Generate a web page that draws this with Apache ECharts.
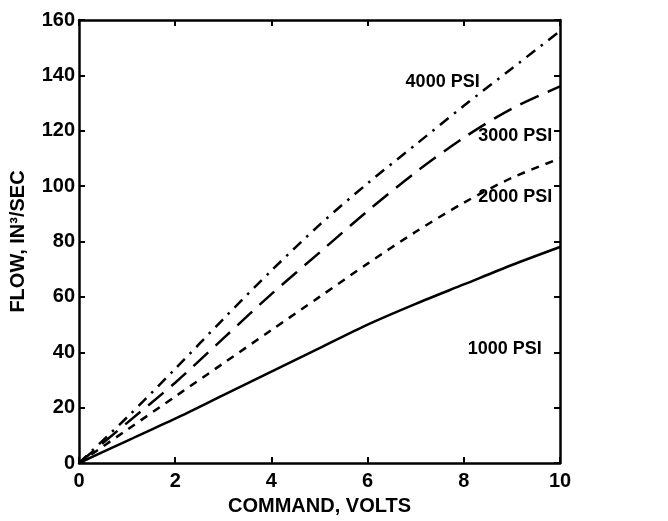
<!DOCTYPE html>
<html>
<head>
<meta charset="utf-8">
<script src="https://cdn.jsdelivr.net/npm/echarts@6/dist/echarts.min.js"></script>
<style>
  html, body { margin: 0; padding: 0; background: #fff; }
  #chart { width: 668px; height: 521px; }
</style>
</head>
<body>
<div id="chart"></div>
<script>
// command voltage (x) and flow at each supply pressure
const volts = [0, 1, 2, 3, 4, 5, 6, 7, 8, 9, 10];
const psi1000 = [0, 8, 16, 24.5, 33, 41.5, 50, 57.5, 64.5, 71.5, 78];
const psi2000 = [0, 12, 24, 36, 48, 60, 72, 83.5, 94, 103, 110];
const psi3000 = [0, 14.5, 29, 45, 61, 76, 91, 105, 117.5, 128, 136];
const psi4000 = [0, 16.5, 34, 52, 69.5, 86, 101, 115, 129, 142.5, 156];
const seriesNames = ['1000 PSI', '2000 PSI', '3000 PSI', '4000 PSI'];
// where each curve's text sits, in data units
const labelAt = [[8.85, 41], [9.07, 96], [9.07, 118], [7.56, 137.6]];

const font = 'Liberation Sans, Arial, sans-serif';
var myChart = echarts.init(document.getElementById('chart'));

function pairs(ys) {
    return volts.map((v, i) => [v, ys[i]]);
}

const dashes = ['solid', [8, 7], [20, 10], [11, 7, 2.5, 7]];
const values = [psi1000, psi2000, psi3000, psi4000];

const series = values.map((ys, k) => ({
    name: seriesNames[k],
    type: 'line',
    smooth: 0.3,
    symbol: 'none',
    data: pairs(ys),
    lineStyle: { color: '#000', width: 2.5, type: dashes[k] },
    markPoint: {
        symbol: 'circle',
        symbolSize: 0,
        silent: true,
        data: [{ coord: labelAt[k] }],
        label: {
            show: true,
            position: 'inside',
            formatter: seriesNames[k],
            color: '#000',
            fontFamily: font,
            fontWeight: 'bold',
            fontSize: 18
        }
    }
}));

const axisLine = { show: true, onZero: false, lineStyle: { color: '#000', width: 2.5 } };
const axisTick = { show: true, inside: true, length: 6, lineStyle: { color: '#000', width: 2 } };
const axisLabel = { color: '#000', fontFamily: font, fontWeight: 'bold', fontSize: 20 };
const nameStyle = { color: '#000', fontFamily: font, fontWeight: 'bold', fontSize: 20 };

const option = {
    animation: false,
    backgroundColor: '#fff',
    grid: { left: 76, right: 108, top: 20, bottom: 57 },
    xAxis: [
        {
            type: 'value', min: 0, max: 10, interval: 2,
            name: 'COMMAND, VOLTS', nameLocation: 'middle', nameGap: 33,
            nameTextStyle: nameStyle,
            axisLine, axisTick, axisLabel: Object.assign({ margin: 8 }, axisLabel),
            splitLine: { show: false }
        },
        {
            type: 'value', min: 0, max: 10, interval: 2, position: 'top',
            axisLine, axisTick, axisLabel: { show: false }, splitLine: { show: false }
        }
    ],
    yAxis: [
        {
            type: 'value', min: 0, max: 160, interval: 20,
            name: 'FLOW, IN³/SEC', nameLocation: 'middle', nameGap: 51,
            nameTextStyle: nameStyle,
            axisLine, axisTick, axisLabel: Object.assign({ margin: 4 }, axisLabel),
            splitLine: { show: false }
        },
        {
            type: 'value', min: 0, max: 160, interval: 20, position: 'right',
            axisLine, axisTick, axisLabel: { show: false }, splitLine: { show: false }
        }
    ],
    series: series
};

option && myChart.setOption(option);
</script>
</body>
</html>
